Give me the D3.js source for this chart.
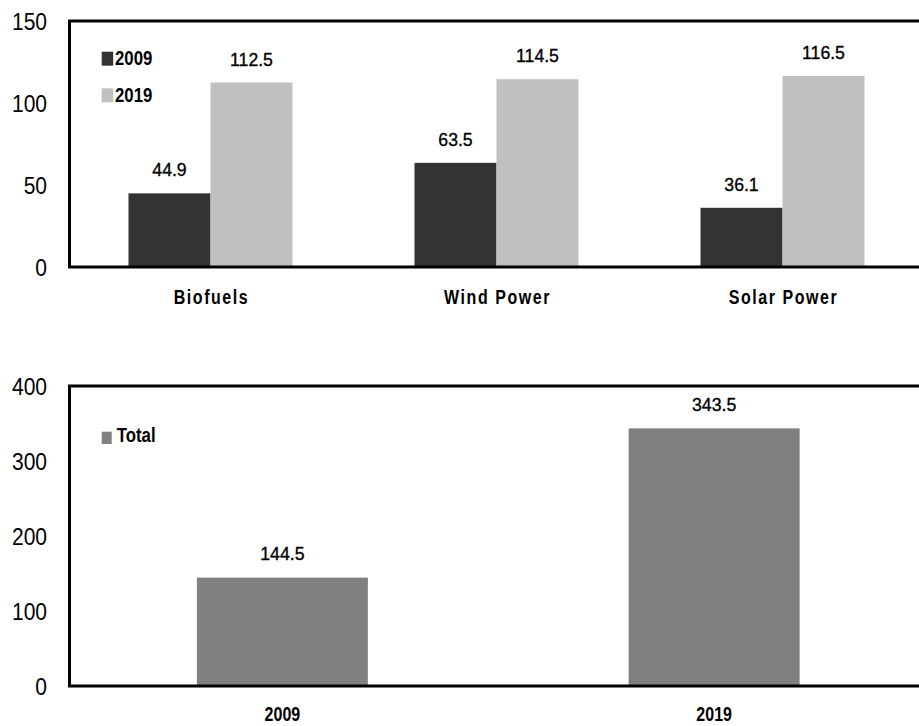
<!DOCTYPE html>
<html>
<head>
<meta charset="utf-8">
<script src="https://cdn.jsdelivr.net/npm/d3@7"></script>
<style>
  html, body { margin: 0; padding: 0; background: #fff; }
  svg { display: block; }
  text { font-family: "Liberation Sans", Arial, sans-serif; fill: #000; }
</style>
</head>
<body>
<svg id="chart" width="919" height="726"></svg>
<script>
// ---- Data ----
const categories = ["Biofuels", "Wind Power", "Solar Power"];
const seriesNames = ["2009", "2019"];
const values2009 = [44.9, 63.5, 36.1];
const values2019 = [112.5, 114.5, 116.5];
const topTicks = [0, 50, 100, 150];

const totalYears = ["2009", "2019"];
const totalValues = [144.5, 343.5];
const totalSeriesName = "Total";
const bottomTicks = [0, 100, 200, 300, 400];

const seriesColors = ["#333333", "#c0c0c0"];
const totalColor = "#808080";

const svg = d3.select("#chart");

function label(g, x, y, str, o) {
  const grp = g.append("g").attr("transform", `translate(${x},${y})`);
  grp.append("text")
    .attr("transform", `scale(${o.sx || 1},1)`)
    .attr("text-anchor", o.anchor || "start")
    .style("font-size", o.size + "px")
    .style("font-weight", o.weight || "normal")
    .style("letter-spacing", (o.ls || 0) + "px")
    .text(str);
  return grp;
}

const axisX = 69.5;

// ================= TOP PANEL =================
const topG = svg.append("g");
const yTop = d3.scaleLinear().domain([0, 150]).range([267, 21]);
const xTop = d3.scaleBand().domain(categories).range([67.5, 925.5]).padding(0);
const barW = 82;
const xSub = d3.scaleBand().domain(seriesNames).range([-barW, barW]).padding(0);

const topData = categories.map((c, i) => ({ c, vals: [values2009[i], values2019[i]] }));

topData.forEach(d => {
  const cx = xTop(d.c) + xTop.bandwidth() / 2;
  d.vals.forEach((v, j) => {
    const x0 = cx + xSub(seriesNames[j]);
    topG.append("rect")
      .attr("x", x0).attr("width", xSub.bandwidth())
      .attr("y", yTop(v)).attr("height", yTop(0) - yTop(v))
      .attr("fill", seriesColors[j]);
    label(topG, x0 + xSub.bandwidth() / 2, yTop(v) - 17, v.toFixed(1),
      { size: 19, sx: 0.93, anchor: "middle" })
      .select("text").style("stroke", "#000").style("stroke-width", "0.35px");
  });
  label(topG, cx + 1, 304, d.c, { size: 20.5, sx: 0.78, anchor: "middle", weight: "bold", ls: 2 });
});

// axis tick labels
const yAxisTop = d3.axisLeft(yTop).tickValues(topTicks).tickSize(0).tickPadding(0).tickFormat(d3.format("d"));
const yaT = topG.append("g").attr("transform", `translate(${axisX},0)`).call(yAxisTop);
yaT.select(".domain").remove();
yaT.selectAll("text")
  .attr("x", -22.5 / 0.875).attr("dy", "0.36em")
  .attr("transform", "scale(0.875,1)")
  .style("font-size", "24px").style("font-family", "Liberation Sans, Arial, sans-serif")
  .attr("fill", "#000");

// frame
topG.append("path")
  .attr("d", `M919,${yTop(150)}H${axisX}V${yTop(0)}H919`)
  .attr("fill", "none").attr("stroke", "#000").attr("stroke-width", 3);

// legend
seriesNames.forEach((s, j) => {
  const ly = 51.7 + j * 36.6;
  topG.append("rect").attr("x", 101.7).attr("y", ly).attr("width", 11.5).attr("height", 14)
    .attr("fill", seriesColors[j]);
  label(topG, 115, ly + 13.5, s, { size: 21, sx: 0.8, weight: "bold" });
});

// ================= BOTTOM PANEL =================
const botG = svg.append("g");
const yBot = d3.scaleLinear().domain([0, 400]).range([686, 386]);
const xBot = d3.scaleBand().domain(totalYears).range([66.5, 930]).padding(0);
const totalBarW = 171;

totalYears.forEach((yr, i) => {
  const cx = xBot(yr) + xBot.bandwidth() / 2;
  const v = totalValues[i];
  botG.append("rect")
    .attr("x", cx - totalBarW / 2).attr("width", totalBarW)
    .attr("y", yBot(v)).attr("height", yBot(0) - yBot(v))
    .attr("fill", totalColor);
  label(botG, cx, yBot(v) - 17.5, v.toFixed(1), { size: 19, sx: 0.93, anchor: "middle" })
    .select("text").style("stroke", "#000").style("stroke-width", "0.35px");
  label(botG, cx, 721, yr, { size: 20, sx: 0.8, anchor: "middle", weight: "bold" });
});

const yAxisBot = d3.axisLeft(yBot).tickValues(bottomTicks).tickSize(0).tickPadding(0).tickFormat(d3.format("d"));
const yaB = botG.append("g").attr("transform", `translate(${axisX},0)`).call(yAxisBot);
yaB.select(".domain").remove();
yaB.selectAll("text")
  .attr("x", -22.5 / 0.875).attr("dy", "0.36em")
  .attr("transform", "scale(0.875,1)")
  .style("font-size", "24px").style("font-family", "Liberation Sans, Arial, sans-serif")
  .attr("fill", "#000");

botG.append("path")
  .attr("d", `M919,${yBot(400)}H${axisX}V${yBot(0)}H919`)
  .attr("fill", "none").attr("stroke", "#000").attr("stroke-width", 3);

botG.append("rect").attr("x", 101.7).attr("y", 431.7).attr("width", 10).attr("height", 12.3)
  .attr("fill", totalColor);
label(botG, 116.7, 441.7, totalSeriesName, { size: 21, sx: 0.8, weight: "bold" });
</script>
</body>
</html>
